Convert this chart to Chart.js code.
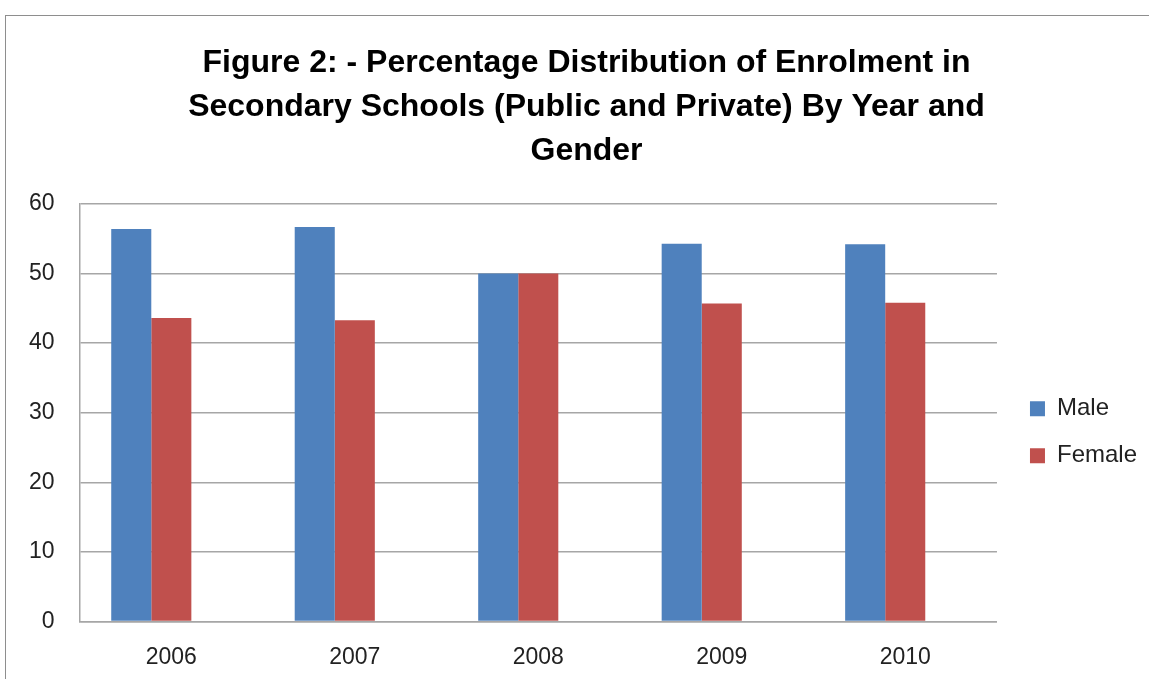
<!DOCTYPE html>
<html>
<head>
<meta charset="utf-8">
<script src="https://cdn.jsdelivr.net/npm/chart.js@4/dist/chart.umd.min.js"></script>
<style>
  html, body { margin: 0; padding: 0; background: #fff; overflow: hidden; }
  #frame {
    position: absolute; left: 5px; top: 15px;
    width: 1170px; height: 700px;
    border: 1px solid #8e8e8e;
    background: #fff;
  }
  #wrap { position: absolute; left: -2px; top: 0; width: 1145px; height: 677px; }
</style>
</head>
<body>
<div id="frame"><div id="wrap"><canvas id="enrolChart"></canvas></div></div>
<script>
const years = ['2006', '2007', '2008', '2009', '2010'];
const maleShare = [56.4, 56.7, 50.0, 54.3, 54.2];
const femaleShare = [43.6, 43.3, 50.0, 45.7, 45.8];
const yTicks = [0, 10, 20, 30, 40, 50, 60];

const titleLines = [
  'Figure 2: - Percentage Distribution of Enrolment in',
  'Secondary Schools (Public and Private) By Year and',
  'Gender'
];

const FONT = "'Liberation Sans', Arial, sans-serif";
const AXIS_GREY = '#a6a6a6';

// centre the heading over the plot rather than the whole canvas
const titleShift = {
  id: 'titleShift',
  afterLayout(chart) {
    if (chart.titleBlock) chart.titleBlock.left += 22;
  }
};

const ctx = document.getElementById('enrolChart').getContext('2d');

new Chart(ctx, {
  type: 'bar',
  data: {
    labels: years,
    datasets: [
      { label: 'Male', data: maleShare, backgroundColor: '#4F81BD' },
      { label: 'Female', data: femaleShare, backgroundColor: '#C0504D' },
      // empty slot so the pair sits left of the tick, Excel-style
      { label: '', data: years.map(() => null), backgroundColor: 'rgba(0,0,0,0)' }
    ]
  },
  plugins: [titleShift],
  options: {
    responsive: true,
    maintainAspectRatio: false,
    animation: false,
    layout: { padding: { left: 0, right: 2, top: 25, bottom: 0 } },
    datasets: {
      bar: { categoryPercentage: 0.655, barPercentage: 1.0 }
    },
    plugins: {
      title: {
        display: true,
        text: titleLines,
        color: '#000',
        font: { family: FONT, size: 32, weight: 'bold', lineHeight: 1.375 },
        padding: { top: 0, bottom: 31 }
      },
      legend: {
        position: 'right',
        fullSize: false,
        // blank title just nudges the two entries down a little
        title: { display: true, text: '', font: { size: 1, lineHeight: 1 }, padding: { top: 38, bottom: 0 } },
        labels: {
          color: '#222',
          font: { family: FONT, size: 24 },
          boxWidth: 15,
          boxHeight: 15,
          padding: 23,
          filter: item => item.text !== ''
        }
      },
      tooltip: { enabled: false }
    },
    scales: {
      x: {
        grid: { display: false, drawTicks: false },
        border: { display: true, color: AXIS_GREY, width: 1.5 },
        ticks: { color: '#222', font: { family: FONT, size: 23 }, padding: 22 }
      },
      y: {
        min: 0,
        max: 60,
        afterBuildTicks: axis => { axis.ticks = yTicks.map(v => ({ value: v })); },
        grid: { color: AXIS_GREY, lineWidth: 1.5, drawTicks: false },
        border: { display: true, color: AXIS_GREY, width: 1.5 },
        ticks: { color: '#222', font: { family: FONT, size: 23 }, padding: 25 }
      },
      // spacer between plot and legend
      gap: {
        axis: 'y',
        position: 'right',
        grid: { display: false, drawTicks: false },
        border: { display: false },
        ticks: { display: false },
        afterFit: axis => { axis.width = 10; }
      }
    }
  }
});
</script>
</body>
</html>
